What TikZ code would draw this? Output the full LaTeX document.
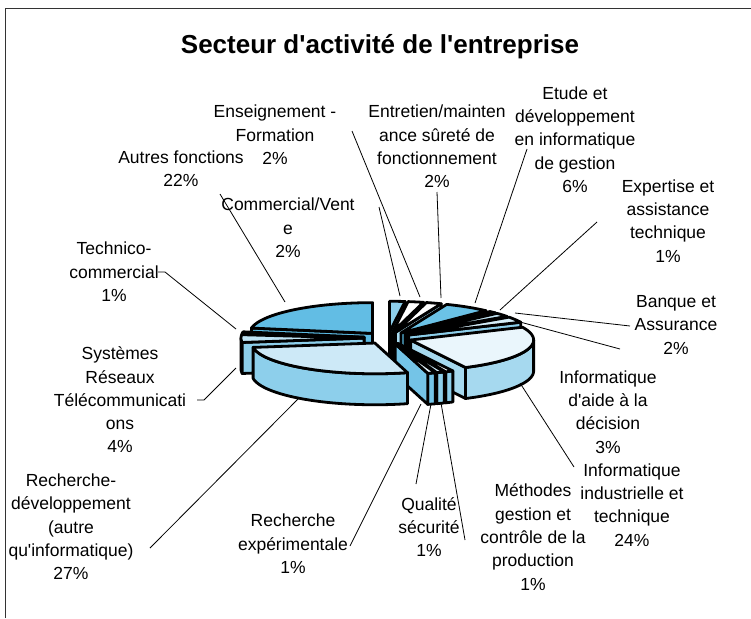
\documentclass[tikz,border=0pt]{standalone}
\usepackage{fontspec}
\setmainfont{Liberation Sans}
\newfontfamily\arialfont{Liberation Sans}

\definecolor{autrestop}{HTML}{62BDE4}
\definecolor{autresside}{HTML}{5BB9E1}
\definecolor{technicotop}{HTML}{C8E7F6}
\definecolor{systemestop}{HTML}{BFE3F4}
\definecolor{midblue}{HTML}{8DCFEB}
\definecolor{deepblue}{HTML}{74C4E7}
\definecolor{etudetop}{HTML}{6BC2E6}
\definecolor{etudeside}{HTML}{5BB8E0}
\definecolor{banquetop}{HTML}{C4E6F5}
\definecolor{aidetop}{HTML}{D5EEF9}
\definecolor{indtop}{HTML}{EAF6FC}
\definecolor{indside}{HTML}{A6D9EF}
\definecolor{paletop}{HTML}{CDE9F7}
\definecolor{rechexptop}{HTML}{E3F3FB}
\definecolor{entretienside}{HTML}{A9DBF0}
\definecolor{framegray}{HTML}{333333}

\tikzset{
  pieedge/.style={draw=black, line width=2.8pt, line join=round},
  lbl/.style={align=center, inner sep=0pt, font=\arialfont\fontsize{17.5}{23.3}\selectfont},
  leader/.style={draw=black, line width=0.8pt},
}

% pie geometry (pixels)
\def\pieox{388}
\def\pieoy{338}
\def\piee{24}
\def\pier{123}
\def\piek{0.25}
\def\pieh{31}

% #1 start angle, #2 end angle (clockwise from top), #3 top colour, #4 side colour
\newcommand{\pieslice}[4]{%
  \pgfmathsetmacro{\sm}{(#1+#2)/2}%
  \pgfmathsetmacro{\scx}{\pieox+\piee*sin(\sm)}%
  \pgfmathsetmacro{\scy}{\pieoy-\piek*\piee*cos(\sm)}%
  \pgfmathsetmacro{\wa}{max(#1,90)}%
  \pgfmathsetmacro{\wb}{min(#2,270)}%
  \pgfmathtruncatemacro{\haswall}{\wb>\wa}%
  \pgfmathtruncatemacro{\hasa}{sin(#1)<-0.001}%
  \pgfmathtruncatemacro{\hasb}{sin(#2)>0.001}%
  \ifnum\haswall=1
    \path[pieedge, fill=#4] plot[domain=\wa:\wb, samples=40] ({\scx+\pier*sin(\x)},{\scy-\piek*\pier*cos(\x)})
      -- plot[domain=\wb:\wa, samples=40] ({\scx+\pier*sin(\x)},{\scy-\piek*\pier*cos(\x)+\pieh}) -- cycle;
  \fi
  \ifnum\hasa=1
    \path[pieedge, fill=#4] (\scx,\scy) -- ({\scx+\pier*sin(#1)},{\scy-\piek*\pier*cos(#1)})
      -- ++(0,\pieh) -- (\scx,{\scy+\pieh}) -- cycle;
  \fi
  \ifnum\hasb=1
    \path[pieedge, fill=#4] (\scx,\scy) -- ({\scx+\pier*sin(#2)},{\scy-\piek*\pier*cos(#2)})
      -- ++(0,\pieh) -- (\scx,{\scy+\pieh}) -- cycle;
  \fi
  \path[pieedge, fill=#3] (\scx,\scy) -- plot[domain=#1:#2, samples=40] ({\scx+\pier*sin(\x)},{\scy-\piek*\pier*cos(\x)}) -- cycle;
}

\begin{document}
\begin{tikzpicture}[x=1pt,y=-1pt]
  \useasboundingbox (0,0) rectangle (751,618);
  \fill[white] (0,0) rectangle (751,618);
  \draw[framegray, line width=1.5pt] (5.5,618) -- (5.5,8.5) -- (751,8.5);

  \node[font=\arialfont\fontsize{26}{30}\selectfont\bfseries] (title) at (380,47) {Secteur d'activité de l'entreprise};

  % slices, back to front
  \pieslice{280}{360}{autrestop}{autresside}
  \pieslice{276.36}{280}{technicotop}{midblue}
  \pieslice{261.82}{276.36}{systemestop}{midblue}
  \pieslice{0}{7.27}{midblue}{deepblue}
  \pieslice{7.27}{14.55}{white}{midblue}
  \pieslice{14.55}{21.82}{white}{entretienside}
  \pieslice{21.82}{43.64}{etudetop}{etudeside}
  \pieslice{43.64}{47.27}{white}{midblue}
  \pieslice{47.27}{54.55}{banquetop}{midblue}
  \pieslice{54.55}{65.45}{aidetop}{midblue}
  \pieslice{65.45}{153.5}{indtop}{indside}
  \pieslice{153.5}{157.2}{white}{midblue}
  \pieslice{157.2}{160.9}{paletop}{midblue}
  \pieslice{160.9}{164.6}{rechexptop}{deepblue}
  \pieslice{164.6}{261.82}{paletop}{midblue}

  % labels
  \node[lbl] (autres) at (181,168.5) {Autres fonctions\\22\%};
  \node[lbl] (enseignement) at (275,135) {Enseignement -\\Formation\\2\%};
  \node[lbl] (commercial) at (288,228) {Commercial/Vent\\e\\2\%};
  \node[lbl] (entretien) at (437,146.5) {Entretien/mainten\\ance sûreté de\\fonctionnement\\2\%};
  \node[lbl] (etude) at (575,139.6) {Etude et\\développement\\en informatique\\de gestion\\6\%};
  \node[lbl] (expertise) at (668,221) {Expertise et\\assistance\\technique\\1\%};
  \node[lbl] (banque) at (676,325) {Banque et\\Assurance\\2\%};
  \node[lbl] (aide) at (608,412) {Informatique\\d'aide à la\\décision\\3\%};
  \node[lbl] (industrielle) at (632,505) {Informatique\\industrielle et\\technique\\24\%};
  \node[lbl] (methodes) at (533,537) {Méthodes\\gestion et\\contrôle de la\\production\\1\%};
  \node[lbl] (qualite) at (429,527) {Qualité\\sécurité\\1\%};
  \node[lbl] (rechexp) at (293,544) {Recherche\\expérimentale\\1\%};
  \node[lbl] (rechdev) at (71,527) {Recherche-\\développement\\(autre\\qu'informatique)\\27\%};
  \node[lbl] (systemes) at (120,400) {Systèmes\\Réseaux\\Télécommunicati\\ons\\4\%};
  \node[lbl] (technico) at (114,272) {Technico-\\commercial\\1\%};

  % leader ends
  \coordinate (autres-a) at (220,194);       \coordinate (autres-b) at (285,302);
  \coordinate (enseignement-a) at (352,131); \coordinate (enseignement-b) at (420,297);
  \coordinate (commercial-a) at (379,207);   \coordinate (commercial-b) at (400,296);
  \coordinate (entretien-a) at (437,192);    \coordinate (entretien-b) at (441,298);
  \coordinate (etude-a) at (527,149);        \coordinate (etude-b) at (475,303);
  \coordinate (expertise-a) at (597,222);    \coordinate (expertise-b) at (500,310);
  \coordinate (banque-a) at (630,326);       \coordinate (banque-b) at (515,313);
  \coordinate (aide-a) at (620,349);         \coordinate (aide-b) at (520,322);
  \coordinate (industrielle-a) at (574,467); \coordinate (industrielle-b) at (520,383);
  \coordinate (methodes-a) at (465,540);     \coordinate (methodes-b) at (441,403);
  \coordinate (qualite-a) at (416,484);      \coordinate (qualite-b) at (431,404);
  \coordinate (rechexp-a) at (350,546);      \coordinate (rechexp-b) at (421,404);
  \coordinate (rechdev-a) at (150,548);      \coordinate (rechdev-b) at (299,398);
  \coordinate (systemes-a) at (197,400);     \coordinate (systemes-b) at (236,368);
  \coordinate (technico-a) at (158,272);     \coordinate (technico-b) at (236,329);

  \draw[leader] (autres-a) -- (autres-b);
  \draw[leader] (enseignement-a) -- (enseignement-b);
  \draw[leader] (commercial-a) -- (commercial-b);
  \draw[leader] (entretien-a) -- (entretien-b);
  \draw[leader] (etude-a) -- (etude-b);
  \draw[leader] (expertise-a) -- (expertise-b);
  \draw[leader] (banque-a) -- (banque-b);
  \draw[leader] (aide-a) -- (aide-b);
  \draw[leader] (industrielle-a) -- (industrielle-b);
  \draw[leader] (methodes-a) -- (methodes-b);
  \draw[leader] (qualite-a) -- (qualite-b);
  \draw[leader] (rechexp-a) -- (rechexp-b);
  \draw[leader] (rechdev-a) -- (rechdev-b);
  \draw[leader] (systemes-a) -- ++(7,0) -- (systemes-b);
  \draw[leader] (technico-a) -- ++(7,0) -- (technico-b);
\end{tikzpicture}
\end{document}
